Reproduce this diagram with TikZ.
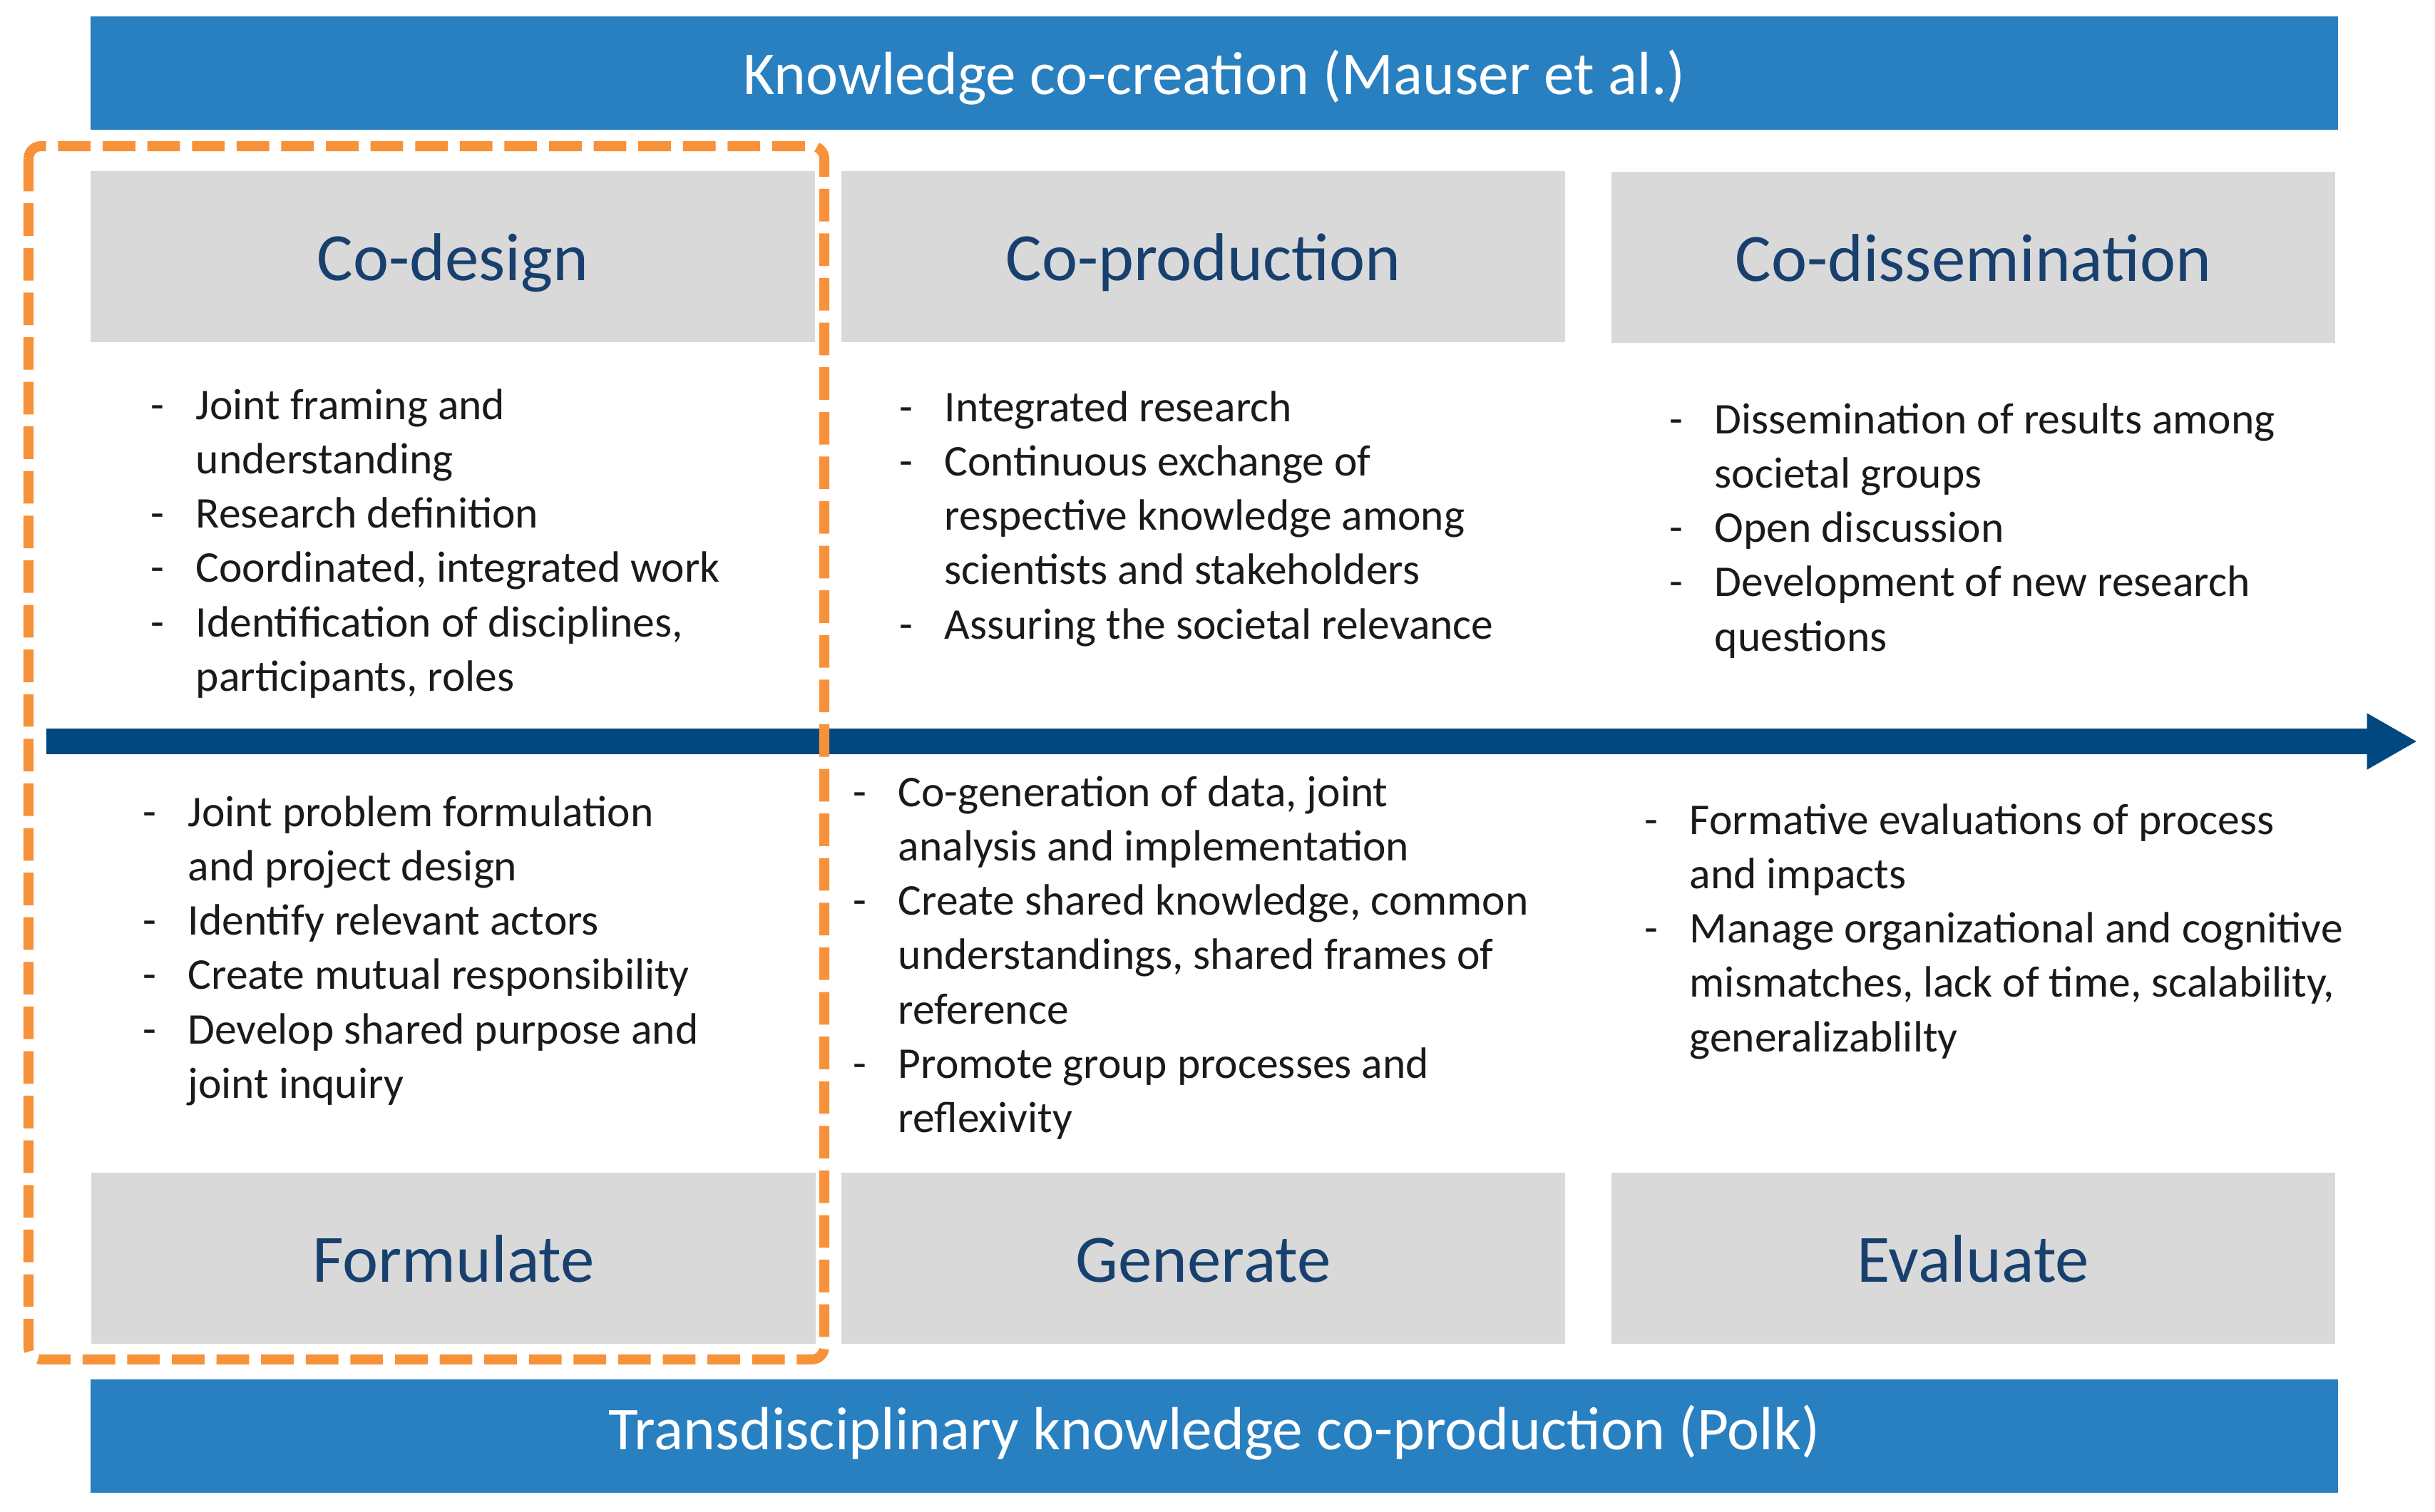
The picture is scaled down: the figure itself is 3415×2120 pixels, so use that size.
\documentclass[tikz,border=0pt]{standalone}
\usepackage{fontspec}
\setmainfont{Carlito}
\usetikzlibrary{arrows.meta}
\definecolor{barblue}{HTML}{2980C1}
\definecolor{navy}{HTML}{17406E}
\definecolor{arrowblue}{HTML}{00487F}
\definecolor{boxgray}{HTML}{D9D9D9}
\definecolor{dashorange}{HTML}{F7923A}
\definecolor{bodytext}{HTML}{1A1A1A}
\newcommand{\blst}[1]{\begin{tabular}[t]{@{}p{0.63cm}@{}l@{}}#1\end{tabular}}
\begin{document}
\begin{tikzpicture}[x=0.01cm,y=-0.01cm,
  bar/.style={fill=barblue,draw=none,minimum width=31.5cm,minimum height=1.58cm,inner sep=0pt,
    text=white,font=\fontsize{24.3}{28}\selectfont,text height=17pt,text depth=0pt},
  headbox/.style={fill=boxgray,draw=none,minimum width=10.15cm,minimum height=2.4cm,inner sep=0pt,
    text=navy,font=\fontsize{27}{31}\selectfont,text height=19pt,text depth=0pt},
  lst/.style={anchor=base west,inner sep=0pt,text=bodytext,font=\fontsize{17.5}{21.7}\selectfont},
  flow/.style={draw=arrowblue,line width=10.2pt,-{Triangle[length=20pt,width=21pt]}},
  focus/.style={draw=dashorange,line width=4pt,dash pattern=on 13pt off 4.8pt,rounded corners=5pt}
]
\useasboundingbox (0,0) rectangle (3415,2120);
\node[bar] (topbar) at (1703,102.5) {Knowledge co-creation (Mauser et al.)\hspace{5pt}};
\node[bar,text depth=6pt] (botbar) at (1703,2014.5) {Transdisciplinary knowledge co-production (Polk)\hspace{7pt}};

\node[headbox] (codesign) at (635,360) {Co-design};
\node[headbox] (coprod) at (1687.5,360) {Co-production};
\node[headbox] (codiss) at (2767.5,361) {Co-dissemination};
\node[headbox] (formulate) at (636,1765) {Formulate};
\node[headbox] (generate) at (1687.5,1765) {Generate};
\node[headbox] (evaluate) at (2767.5,1765) {Evaluate};

\coordinate (arrowstart) at (65,1040);
\coordinate (arrowend) at (3390,1040);
\draw[flow] (arrowstart) -- (arrowend);

\node[lst] (l1) at (211,588) {\blst{- & Joint framing and\\ & understanding\\ - & Research definition\\ - & Coordinated, integrated work\\ - & Identification of disciplines,\\ & participants, roles}};
\node[lst] (l2) at (1261,591) {\blst{- & Integrated research\\ - & Continuous exchange of\\ & respective knowledge among\\ & scientists and stakeholders\\ - & Assuring the societal relevance}};
\node[lst] (l3) at (2341,608) {\blst{- & Dissemination of results among\\ & societal groups\\ - & Open discussion\\ - & Development of new research\\ & questions}};
\node[lst] (l4) at (200,1159) {\blst{- & Joint problem formulation\\ & and project design\\ - & Identify relevant actors\\ - & Create mutual responsibility\\ - & Develop shared purpose and\\ & joint inquiry}};
\node[lst] (l5) at (1196,1131) {\blst{- & Co-generation of data, joint\\ & analysis and implementation\\ - & Create shared knowledge, common\\ & understandings, shared frames of\\ & reference\\ - & Promote group processes and\\ & reflexivity}};
\node[lst] (l6) at (2306,1170) {\blst{- & Formative evaluations of process\\ & and impacts\\ - & Manage organizational and cognitive\\ & mismatches, lack of time, scalability,\\ & generalizablilty}};

\draw[focus] (40,205) rectangle (1156,1907);
\end{tikzpicture}
\end{document}
